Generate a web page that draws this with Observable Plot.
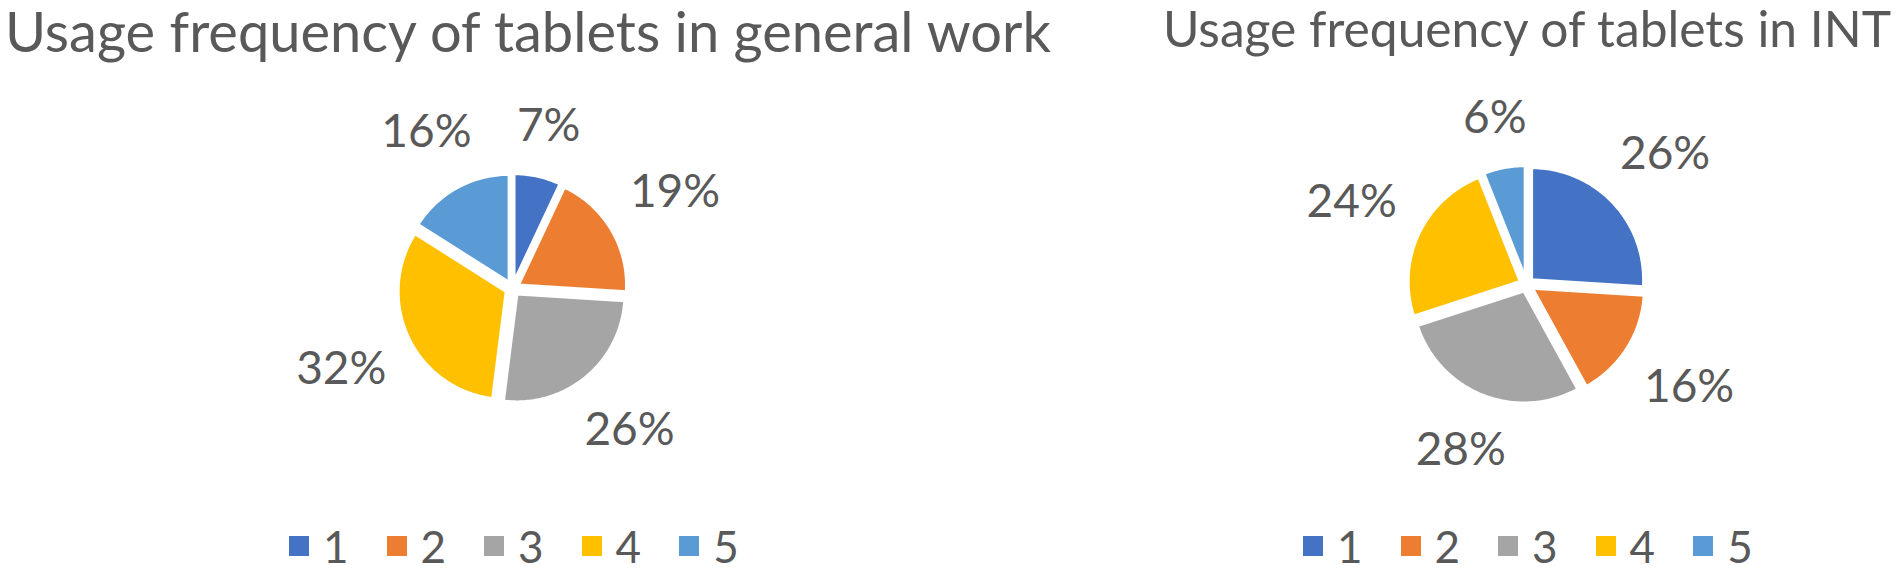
<!DOCTYPE html>
<html>
<head>
<meta charset="utf-8">
<script src="https://cdn.jsdelivr.net/npm/d3@7"></script>
<script src="https://cdn.jsdelivr.net/npm/@observablehq/plot@0.6"></script>
<style>
  html, body { margin: 0; padding: 0; background: #ffffff; }
  #root { position: relative; width: 1901px; height: 574px; overflow: hidden; font-family: Lato, "Open Sans", sans-serif; }
  .abs { position: absolute; }
  .title { position: absolute; white-space: nowrap; font-family: Lato, sans-serif; color: #595959; line-height: 1; }
  .lg-swatches { margin: 0 !important; }
  .lg-swatches-wrap { min-height: 0 !important; flex-wrap: nowrap !important; }
  .lg-swatch { margin-right: 38px !important; line-height: 34px; }
  .lg-swatch > svg { margin-right: 14px !important; }
</style>
</head>
<body>
<div id="root"></div>
<script>
// ---- data ----
const categories = ["1", "2", "3", "4", "5"];
const colors = ["#4472C4", "#ED7D31", "#A5A5A5", "#FFC000", "#5B9BD5"];
const generalWork = [7, 19, 26, 32, 16];
const intUse = [26, 16, 28, 24, 6];
const titleGeneral = "Usage frequency of tablets in general work";
const titleInt = "Usage frequency of tablets in INT";

const textColor = "#595959";
const root = d3.select("#root");

// titles as HTML, font size fitted to the reference width, baseline placed at a target y
function title(str, x, baseline, targetWidth) {
  const d = root.append("div").attr("class", "title")
    .style("left", x + "px").style("top", "0px").style("font-size", "50px").text(str);
  const w = d.node().getBoundingClientRect().width;
  const fs = 50 * targetWidth / w;
  d.style("font-size", fs.toFixed(2) + "px");
  const marker = d.append("span").style("display", "inline-block").style("width", "0px").style("height", "0px").style("vertical-align", "baseline");
  const top0 = d.node().getBoundingClientRect().top;
  const base = marker.node().getBoundingClientRect().top - top0;
  marker.remove();
  d.style("top", (baseline - base).toFixed(1) + "px");
}
title(titleGeneral, 5, 52, 1046);
title(titleInt, 1163, 47, 728);

function pieChart(values, {cx, cy, R, e, W = 500, H = 440, fs = 46, gap = 26}) {
  const arcs = d3.pie().sort(null).value(d => d)(values);
  const pts = [];
  const labels = [];
  arcs.forEach((p, i) => {
    const cat = categories[i];
    const m = (p.startAngle + p.endAngle) / 2;
    const ox = (e / R) * Math.sin(m), oy = (e / R) * Math.cos(m);
    pts.push({cat, x: ox, y: oy});
    const n = Math.max(2, Math.ceil((p.endAngle - p.startAngle) / (Math.PI / 180)));
    for (let k = 0; k <= n; k++) {
      const a = p.startAngle + (p.endAngle - p.startAngle) * k / n;
      pts.push({cat, x: ox + Math.sin(a), y: oy + Math.cos(a)});
    }
    pts.push({cat, x: ox, y: oy});
    const txt = values[i] + "%";
    const w = (txt.length - 1) * 0.58 * fs + 0.78 * fs;
    const h = 0.8 * fs;
    const dist = R + e + gap + (w / 2) * Math.abs(Math.sin(m)) + (h / 2) * Math.abs(Math.cos(m));
    labels.push({text: txt, x: (dist / R) * Math.sin(m), y: (dist / R) * Math.cos(m)});
  });
  const plot = Plot.plot({
    width: W, height: H, margin: 0, inset: 0,
    x: {domain: [-W / 2 / R, W / 2 / R], axis: null},
    y: {domain: [-H / 2 / R, H / 2 / R], axis: null},
    color: {domain: categories, range: colors},
    style: {overflow: "visible", background: "transparent"},
    marks: [
      Plot.line(pts, {x: "x", y: "y", z: "cat", fill: "cat", stroke: "white", strokeWidth: 3, strokeLinejoin: "round"}),
      Plot.text(labels, {x: "x", y: "y", text: "text", fontSize: fs, fontFamily: "Lato", fill: textColor, lineAnchor: "middle", textAnchor: "middle"})
    ]
  });
  d3.select(plot).attr("class", "abs").style("left", (cx - W / 2) + "px").style("top", (cy - H / 2) + "px");
  root.node().appendChild(plot);
}

function legend(left, top) {
  const lg = Plot.legend({
    color: {domain: categories, range: colors},
    legend: "swatches", swatchSize: 20, className: "lg",
    style: {fontSize: "44px", fontFamily: "Lato", color: textColor}
  });
  d3.select(lg).attr("class", d3.select(lg).attr("class") + " abs").style("left", left + "px").style("top", top + "px");
  root.node().appendChild(lg);
}

pieChart(generalWork, {cx: 512, cy: 288, R: 108, e: 7});
pieChart(intUse, {cx: 1526, cy: 284, R: 112, e: 7});
legend(289, 529);
legend(1303, 529);
</script>
</body>
</html>
